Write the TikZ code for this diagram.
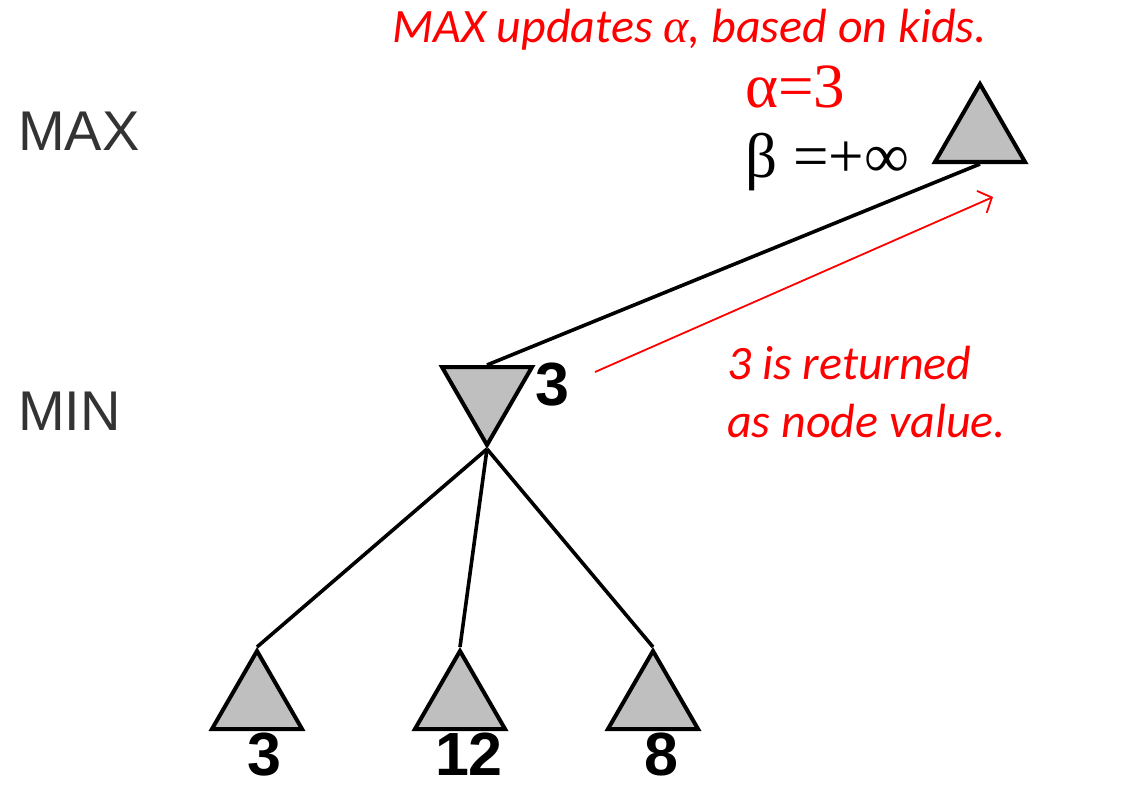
\documentclass[tikz,border=0pt]{standalone}
\usepackage{fontspec}
\setmainfont{Liberation Serif}
\setsansfont{Liberation Sans}
\newfontfamily\notefont{Carlito}
\newfontfamily\greekfont{Liberation Serif}
\usetikzlibrary{shapes.geometric,arrows.meta}

\begin{document}
\begin{tikzpicture}[x=1pt,y=-1pt,
                    tri node/.style={regular polygon,regular polygon sides=3,draw,line width=4pt,
                                     fill=black!25,minimum size=104pt,inner sep=0pt},
                    tree edge/.style={draw,line width=3.6pt},
                    level label/.style={font=\sffamily\fontsize{56}{56}\selectfont,text=black!80,
                                        anchor=base west,inner sep=0pt},
                    value label/.style={font=\sffamily\bfseries\fontsize{61}{61}\selectfont,
                                        anchor=base,inner sep=0pt},
                    note/.style={font=\notefont\itshape\fontsize{48}{58}\selectfont,text=red,
                                 inner sep=0pt}]
  \useasboundingbox (0,0) rectangle (1127,789);

  % levels
  \node[level label] (maxlbl) at (18,150) {MAX};
  \node[level label] (minlbl) at (18,430) {MIN};

  % tree
  \node[tri node] (max) at (980,136) {};
  \node[tri node,shape border rotate=180] (min) at (487,393) {};
  \node[tri node] (l1) at (257,703) {};
  \node[tri node] (l2) at (460,703) {};
  \node[tri node] (l3) at (653,703) {};

  \path[every edge/.style={tree edge}]
    (max.side 2) edge (min.side 2)
    (min.corner 1) edge (l1.corner 1)
                   edge (l2.corner 1)
                   edge (l3.corner 1);

  \node[value label] (v1) at (264,775) {3};
  \node[value label] (v2) at (469,775) {12};
  \node[value label] (v3) at (661,775) {8};
  \node[value label] (vmin) at (552,405) {3};

  % bounds at the root
  \node[anchor=base west,inner sep=0pt,text=red,font=\fontsize{63}{63}\selectfont]
    (alpha) at (745,108) {α=3};
  \node[anchor=base west,inner sep=0pt,font=\fontsize{63}{63}\selectfont]
    (beta) at (745,178) {β =+∞};

  % notes
  \node[note,anchor=base west] (top) at (392,43) {MAX updates {\greekfont α}, based on kids.};
  \node[note,anchor=north west,align=left] (ret) at (727,346) {3 is returned\\as node value.};

  \coordinate (rs) at (595,372);
  \coordinate (re) at (993,197);
  \draw[red,line width=1.8pt,-{Straight Barb[length=11pt,width=24pt]}] (rs) -- (re);
\end{tikzpicture}
\end{document}
